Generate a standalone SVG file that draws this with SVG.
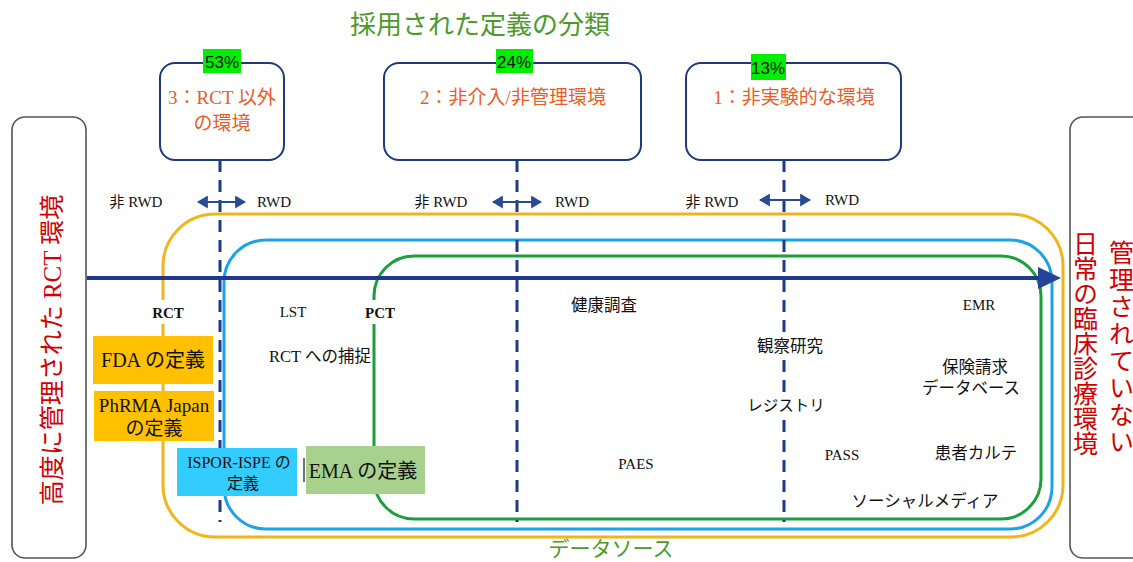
<svg xmlns="http://www.w3.org/2000/svg" width="1133" height="562" viewBox="0 0 1133 562">
<defs>
<style>
.t{font-family:"Liberation Serif","Noto Sans CJK JP",serif;fill:#111}
.s{font-size:15px}
.j{font-size:16.5px}
.b{font-weight:bold}
.cat{font-family:"Liberation Serif","Noto Sans CJK JP",serif;font-size:19px;fill:#ee5a24}
.pct{font-family:"Liberation Sans","Noto Sans",sans-serif;font-size:17px;fill:#111}
.pbg{fill:#00ee00}
.top{fill:#fff;stroke:#1f3a7a;stroke-width:2}
.side{fill:#fff;stroke:#555;stroke-width:1.6}
.red{font-family:"Liberation Serif","Noto Sans CJK JP",serif;font-size:25px;fill:#d20000}
.grn{font-family:"Noto Sans CJK JP",sans-serif;fill:#4c9a2a}
.dash{stroke:#1f3a8a;stroke-width:3;stroke-dasharray:12 8;fill:none}
.dbl{stroke:#2a4a94;stroke-width:2;fill:none}
.box{stroke:none}
</style>
<marker id="ah" viewBox="0 0 10 10" refX="9" refY="5" markerWidth="11" markerHeight="13" orient="auto-start-reverse" markerUnits="userSpaceOnUse" preserveAspectRatio="none">
<path d="M0,0 L10,5 L0,10 z" fill="#2a4a94"/>
</marker>
</defs>

<rect width="1133" height="562" fill="#fff"/>

<text class="grn" x="480" y="34" font-size="26" text-anchor="middle">採用された定義の分類</text>
<text class="grn" x="611" y="556" font-size="21" text-anchor="middle">データソース</text>

<g id="connectors">
  <rect x="163" y="214" width="900" height="323" rx="52" fill="none" stroke="#f5b31a" stroke-width="3"/>
  <rect x="224" y="240" width="828" height="289" rx="42" fill="none" stroke="#1aa3e8" stroke-width="3"/>
  <rect x="374" y="256" width="667" height="263" rx="40" fill="none" stroke="#18a03a" stroke-width="3"/>
  <line x1="87" y1="278" x2="1040" y2="278" stroke="#1f3a8a" stroke-width="4"/>
  <path d="M1038,267 L1061,278 L1038,289 z" fill="#24439a"/>
  <line class="dash" x1="220" y1="160" x2="220" y2="522"/>
  <line class="dash" x1="517" y1="160" x2="517" y2="522"/>
  <line class="dash" x1="784" y1="160" x2="784" y2="522"/>
  <line class="dbl" x1="198" y1="202" x2="245" y2="202" marker-start="url(#ah)" marker-end="url(#ah)"/>
  <line class="dbl" x1="493" y1="202" x2="541" y2="202" marker-start="url(#ah)" marker-end="url(#ah)"/>
  <line class="dbl" x1="760" y1="200" x2="810" y2="200" marker-start="url(#ah)" marker-end="url(#ah)"/>
</g>

<g id="left-env">
  <rect class="side" x="12" y="117" width="74" height="441" rx="13"/>
  <text class="red" transform="translate(61,350) rotate(-90)" text-anchor="middle">高度に管理された RCT 環境</text>
</g>

<g id="right-env">
  <rect class="side" x="1070" y="117" width="90" height="441" rx="13"/>
  <text class="red" x="1119" y="240" font-size="24" style="writing-mode:vertical-rl" letter-spacing="2">管理されていない</text>
  <text class="red" x="1083" y="231" style="writing-mode:vertical-rl">日常の臨床診療環境</text>
</g>

<g id="cat3">
  <rect class="top" x="160" y="63" width="124" height="97" rx="15"/>
  <rect class="pbg" x="203" y="49" width="38" height="24"/>
  <text class="pct" x="222" y="68" text-anchor="middle">53%</text>
  <text class="cat" x="222" y="104" text-anchor="middle">3：RCT 以外</text>
  <text class="cat" x="222" y="130" text-anchor="middle">の環境</text>
</g>
<g id="cat2">
  <rect class="top" x="384" y="63" width="257" height="97" rx="15"/>
  <rect class="pbg" x="496" y="49" width="37" height="24"/>
  <text class="pct" x="514" y="68" text-anchor="middle">24%</text>
  <text class="cat" x="513" y="104" text-anchor="middle">2：非介入/非管理環境</text>
</g>
<g id="cat1">
  <rect class="top" x="686" y="63" width="215" height="97" rx="15"/>
  <rect class="pbg" x="751" y="54" width="35" height="26"/>
  <text class="pct" x="768" y="74" text-anchor="middle">13%</text>
  <text class="cat" x="794" y="104" text-anchor="middle">1：非実験的な環境</text>
</g>

<g id="rwd-labels">
  <text class="t s" x="136" y="207" text-anchor="middle">非 RWD</text>
  <text class="t s" x="274" y="207" text-anchor="middle">RWD</text>
  <text class="t s" x="441" y="207" text-anchor="middle">非 RWD</text>
  <text class="t s" x="572" y="207" text-anchor="middle">RWD</text>
  <text class="t s" x="712" y="207" text-anchor="middle">非 RWD</text>
  <text class="t s" x="842" y="205" text-anchor="middle">RWD</text>
</g>

<g id="labels">
  <rect x="148" y="300" width="40" height="24" fill="#fff"/>
  <text class="t s b" x="168" y="318" text-anchor="middle">RCT</text>
  <text class="t s" x="293" y="317" text-anchor="middle">LST</text>
  <rect x="360" y="300" width="40" height="24" fill="#fff"/>
  <text class="t s b" x="380" y="318" text-anchor="middle">PCT</text>
  <text class="t j" x="320" y="362" text-anchor="middle">RCT への捕捉</text>
  <text class="t j" x="604" y="311" text-anchor="middle">健康調査</text>
  <text class="t s" x="979" y="310" text-anchor="middle">EMR</text>
  <rect x="752" y="335" width="72" height="25" fill="#fff"/>
  <text class="t j" x="790" y="352" text-anchor="middle">観察研究</text>
  <text class="t j" x="975" y="373" text-anchor="middle">保険請求</text>
  <text class="t j" x="971" y="394" text-anchor="middle">データベース</text>
  <rect x="745" y="396" width="82" height="22" fill="#fff"/>
  <text class="t" font-size="15.5" x="786" y="411" text-anchor="middle">レジストリ</text>
  <text class="t s" x="636" y="469" text-anchor="middle">PAES</text>
  <text class="t s" x="842" y="460" text-anchor="middle">PASS</text>
  <text class="t j" x="976" y="459" text-anchor="middle">患者カルテ</text>
  <text class="t j" x="925" y="507" text-anchor="middle">ソーシャルメディア</text>
</g>

<g id="fda">
  <rect class="box" x="93" y="336" width="120" height="48" fill="#ffc000"/>
  <text class="t" x="153" y="367" font-size="20" text-anchor="middle">FDA の定義</text>
</g>
<g id="phrma">
  <rect class="box" x="94" y="391" width="120" height="50" fill="#ffc000"/>
  <text class="t" x="154" y="412" font-size="19" text-anchor="middle">PhRMA Japan</text>
  <text class="t" x="154" y="435" font-size="19" text-anchor="middle">の定義</text>
</g>
<g id="ispor">
  <rect class="box" x="177" y="448" width="120" height="48" fill="#33ccff"/>
  <text class="t" x="239" y="468" font-size="16" text-anchor="middle">ISPOR-ISPE の</text>
  <text class="t" x="243" y="489" font-size="16" text-anchor="middle">定義</text>
</g>
<g id="ema">
  <line x1="304" y1="458" x2="304" y2="482" stroke="#444" stroke-width="1.5"/>
  <rect class="box" x="306" y="446" width="119" height="48" fill="#a9d18e"/>
  <text class="t" x="363" y="478" font-size="20" text-anchor="middle">EMA の定義</text>
</g>
</svg>
